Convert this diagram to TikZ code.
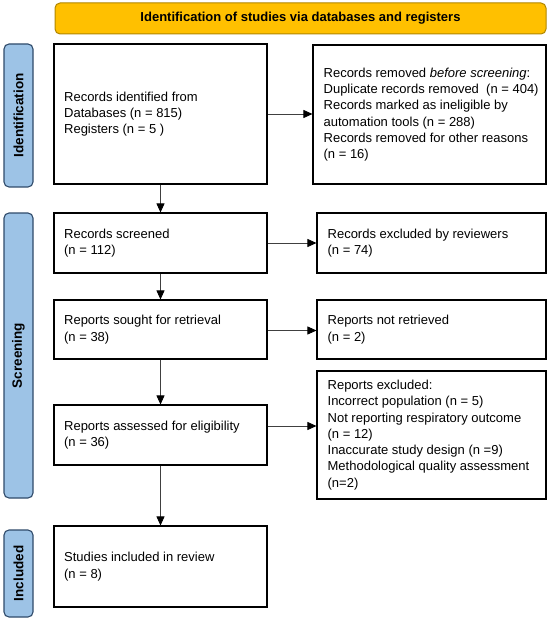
\documentclass[tikz,border=0pt]{standalone}
\usepackage{fontspec}
\setmainfont{Liberation Sans}
\usetikzlibrary{arrows.meta}
\definecolor{gold}{HTML}{FFC000}
\definecolor{goldline}{HTML}{B08600}
\definecolor{lblue}{HTML}{9DC3E6}
\definecolor{lline}{HTML}{2F4A6A}
\definecolor{arr}{HTML}{404040}
\begin{document}
\begin{tikzpicture}[x=1pt,y=-1pt,
  box/.style={draw=black,line width=1.1pt,fill=white,inner sep=0pt},
  txt/.style={anchor=west,align=left,inner sep=0pt,font=\fontsize{13}{16.3}\selectfont},
  lab/.style={draw=lline,fill=lblue,rounded corners=5pt,line width=1.1pt,rotate=90,inner sep=0pt,minimum height=29pt,font=\fontsize{13.5}{16}\selectfont\bfseries},
  arrow/.style={draw=arr,line width=0.8pt,-{Triangle[length=9pt,width=8pt,color=black]}}]
\useasboundingbox (0,0) rectangle (550,620);
\fill[white] (0,0) rectangle (550,620);
% banner
\node[draw=goldline,fill=gold,rounded corners=5pt,line width=1pt,minimum width=491pt,minimum height=31pt,inner sep=0pt,font=\fontsize{13}{16}\selectfont\bfseries] (ban) at (300.5,18.5) {Identification of studies via databases and registers};
% side labels
\node[lab,minimum width=143pt] (L1) at (18.5,115.5) {Identification};
\node[lab,minimum width=285pt] (L2) at (18.5,355.5) {Screening};
\node[lab,minimum width=87pt] (L3) at (18.5,573.5) {Included};
% left column
\node[box,minimum width=213pt,minimum height=140pt] (b1) at (160.5,114) {};
\node[txt] (t1) at ([xshift=10.5pt]b1.west) {Records identified from\\Databases (n = 815)\\Registers (n = 5 )};
\node[box,minimum width=213pt,minimum height=60pt] (b2) at (160.5,243) {};
\node[txt] (t2) at ([xshift=10.5pt]b2.west) {Records screened\\(n = 112)};
\node[box,minimum width=213pt,minimum height=59pt] (b3) at (160.5,329.5) {};
\node[txt] (t3) at ([xshift=10.5pt]b3.west) {Reports sought for retrieval\\(n = 38)};
\node[box,minimum width=213pt,minimum height=60pt] (b4) at (160.5,435) {};
\node[txt] (t4) at ([xshift=10.5pt]b4.west) {Reports assessed for eligibility\\(n = 36)};
\node[box,minimum width=213pt,minimum height=81pt] (b5) at (160.5,566.5) {};
\node[txt] (t5) at ([xshift=10.5pt]b5.west) {Studies included in review\\(n = 8)};
% right column
\node[box,minimum width=233pt,minimum height=139pt] (r1) at (429.5,114.5) {};
\node[txt] (s1) at ([xshift=11pt]r1.west) {Records removed \textit{before screening}:\\Duplicate records removed~ (n = 404)\\Records marked as ineligible by\\automation tools (n = 288)\\Records removed for other reasons\\(n = 16)};
\node[box,minimum width=229pt,minimum height=60pt] (r2) at (431.5,243) {};
\node[txt] (s2) at ([xshift=11pt]r2.west) {Records excluded by reviewers\\(n = 74)};
\node[box,minimum width=229pt,minimum height=59pt] (r3) at (431.5,329.5) {};
\node[txt] (s3) at ([xshift=11pt]r3.west) {Reports not retrieved\\(n = 2)};
\node[box,minimum width=229pt,minimum height=128pt] (r4) at (431.5,435) {};
\node[txt] (s4) at ([xshift=11pt]r4.west) {Reports excluded:\\Incorrect population (n = 5)\\Not reporting respiratory outcome\\(n = 12)\\Inaccurate study design (n =9)\\Methodological quality assessment\\(n=2)};
% connectors
\draw[arrow] (b1.east) -- (b1.east -| r1.west);
\draw[arrow] (b2.east) -- (b2.east -| r2.west);
\draw[arrow] ([yshift=-1pt]b3.east) -- ([yshift=-1pt]b3.east -| r3.west);
\coordinate (a4) at ([yshift=9pt]b4.east);
\draw[arrow] (a4) -- (a4 -| r4.west);
\draw[arrow] (b1.south) -- (b2.north);
\draw[arrow] (b2.south) -- (b3.north);
\draw[arrow] (b3.south) -- (b4.north);
\draw[arrow] (b4.south) -- (b5.north);
\end{tikzpicture}
\end{document}
